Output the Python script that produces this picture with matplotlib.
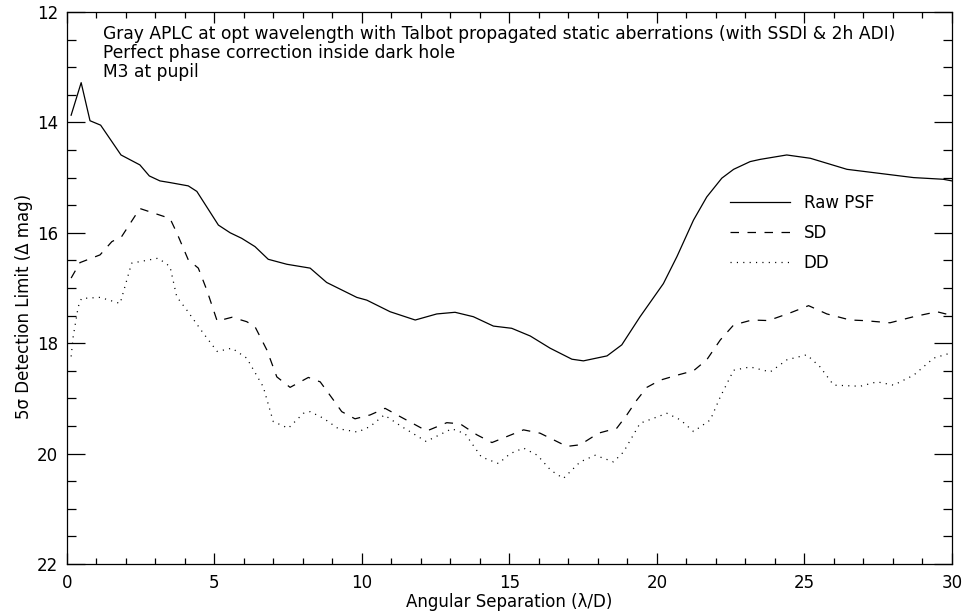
import numpy as np
import matplotlib
matplotlib.use('Agg')
import matplotlib.pyplot as plt
from matplotlib.ticker import MultipleLocator

# Raw PSF (linha continua)
raw_x = [0.15, 0.49, 0.79, 1.15, 1.84, 2.48, 2.80, 3.16, 3.50, 4.12, 4.41, 5.14, 5.54, 5.93,
         6.38, 6.83, 7.46, 8.25, 8.81, 9.83, 10.17, 10.96, 11.81, 12.54, 13.16, 13.78, 14.46,
         15.08, 15.71, 16.38, 17.12, 17.51, 18.31, 18.81, 19.43, 20.22, 20.68, 21.24, 21.69,
         22.2, 22.6, 23.16, 23.5, 24.4, 25.2, 26.44, 28.7, 29.7, 30.0]
raw_y = [13.87, 13.28, 13.97, 14.05, 14.59, 14.77, 14.97, 15.06, 15.09, 15.15, 15.25, 15.86,
         16.0, 16.1, 16.25, 16.48, 16.57, 16.64, 16.9, 17.17, 17.22, 17.43, 17.58, 17.47, 17.44,
         17.52, 17.69, 17.73, 17.87, 18.09, 18.29, 18.32, 18.23, 18.03, 17.52, 16.92, 16.43,
         15.77, 15.35, 15.01, 14.85, 14.71, 14.67, 14.59, 14.65, 14.85, 15.0, 15.03, 15.06]

# SD (tracejada)
sd_x = [0.15, 0.45, 1.13, 1.53, 1.86, 2.48, 3.16, 3.5, 3.73, 4.12, 4.46, 4.75, 5.1, 5.6,
        6.1, 6.38, 6.78, 7.12, 7.57, 8.19, 8.59, 9.04, 9.32, 9.77, 10.28, 10.79, 11.3, 12.2,
        12.88, 13.33, 13.9, 14.41, 14.92, 15.48, 16.04, 16.95, 17.4, 18.02, 18.64, 18.98,
        19.32, 19.66, 20.11, 20.68, 21.24, 21.69, 22.15, 22.6, 23.22, 23.78, 24.52, 25.14,
        25.76, 26.55, 27.0, 27.9, 28.7, 29.49, 29.94]
sd_y = [16.82, 16.54, 16.4, 16.16, 16.07, 15.56, 15.68, 15.74, 16.0, 16.49, 16.64, 17.04,
        17.6, 17.53, 17.61, 17.7, 18.12, 18.61, 18.8, 18.62, 18.7, 19.03, 19.24, 19.37, 19.3,
        19.18, 19.33, 19.59, 19.44, 19.46, 19.66, 19.8, 19.69, 19.57, 19.63, 19.87, 19.84,
        19.63, 19.54, 19.3, 19.03, 18.8, 18.67, 18.58, 18.5, 18.3, 17.94, 17.67, 17.58, 17.59,
        17.45, 17.32, 17.47, 17.58, 17.59, 17.63, 17.52, 17.43, 17.49]

# DD (pontilhada)
dd_x = [0.15, 0.22, 0.39, 0.5, 1.13, 1.81, 2.2, 3.1, 3.5, 3.73, 4.07, 4.63, 5.1, 5.6, 6.1,
        6.66, 7.0, 7.51, 8.02, 8.25, 8.7, 9.21, 9.86, 10.28, 10.76, 11.35, 12.18, 13.05,
        13.5, 14.05, 14.63, 15.03, 15.48, 15.95, 16.4, 16.83, 17.4, 17.91, 18.53, 18.87,
        19.43, 20.34, 20.8, 21.24, 21.81, 22.15, 22.6, 23.16, 23.84, 24.41, 25.08, 25.53,
        25.99, 26.89, 27.46, 28.02, 28.7, 29.38, 29.94]
dd_y = [18.24, 17.88, 17.34, 17.19, 17.17, 17.28, 16.55, 16.46, 16.61, 17.16, 17.4, 17.82,
        18.15, 18.09, 18.27, 18.79, 19.42, 19.54, 19.27, 19.24, 19.36, 19.55, 19.61, 19.51,
        19.3, 19.51, 19.78, 19.55, 19.64, 20.06, 20.18, 20.0, 19.9, 20.03, 20.3, 20.45,
        20.15, 20.03, 20.15, 19.97, 19.45, 19.27, 19.39, 19.6, 19.39, 18.97, 18.49, 18.43,
        18.52, 18.3, 18.21, 18.43, 18.76, 18.78, 18.7, 18.76, 18.58, 18.27, 18.18]

titulos = ['Gray APLC at opt wavelength with Talbot propagated static aberrations (with SSDI & 2h ADI)',
           'Perfect phase correction inside dark hole',
           'M3 at pupil']

fonte = 12

fig = plt.figure(figsize=(9.63, 6.11), dpi=100)
ax = fig.add_axes([66.7 / 963, 47 / 611, (952 - 66.7) / 963, 552 / 611])

ax.plot(raw_x, raw_y, color='black', lw=0.9, label='Raw PSF')
ax.plot(sd_x, sd_y, color='black', lw=0.9, dashes=(6.8, 6.8), label='SD')
ax.plot(dd_x, dd_y, color='black', lw=0.9, dashes=(0.9, 4.2), label='DD')

ax.set_xlim(0, 30)
ax.set_ylim(22, 12)
ax.xaxis.set_major_locator(MultipleLocator(5))
ax.xaxis.set_minor_locator(MultipleLocator(1))
ax.yaxis.set_major_locator(MultipleLocator(2))
ax.yaxis.set_minor_locator(MultipleLocator(0.5))
ax.tick_params(which='both', direction='in', top=True, right=True, labelsize=fonte, width=0.9)
ax.tick_params(axis='y', which='major', length=13, pad=6)
ax.tick_params(axis='y', which='minor', length=6.5)
ax.tick_params(axis='x', which='major', length=8, pad=7)
ax.tick_params(axis='x', which='minor', length=4.3)
for s in ax.spines.values():
    s.set_linewidth(0.9)

ax.set_xlabel('Angular Separation (λ/D)', fontsize=fonte, labelpad=1)
ax.set_ylabel('5σ Detection Limit (Δ mag)', fontsize=fonte)
ax.yaxis.set_label_coords(-0.038, 0.467)

for i, t in enumerate(titulos):
    ax.text(0.041, 0.96 - i * 0.0344, t, transform=ax.transAxes, fontsize=12.3,
            va='center', ha='left')

ax.legend(loc='upper left', bbox_to_anchor=(0.749, 0.670), frameon=False, fontsize=fonte,
          handlelength=3.6, handletextpad=0.84, labelspacing=0.72, borderpad=0, borderaxespad=0)

fig.savefig('out.png', dpi=100)
